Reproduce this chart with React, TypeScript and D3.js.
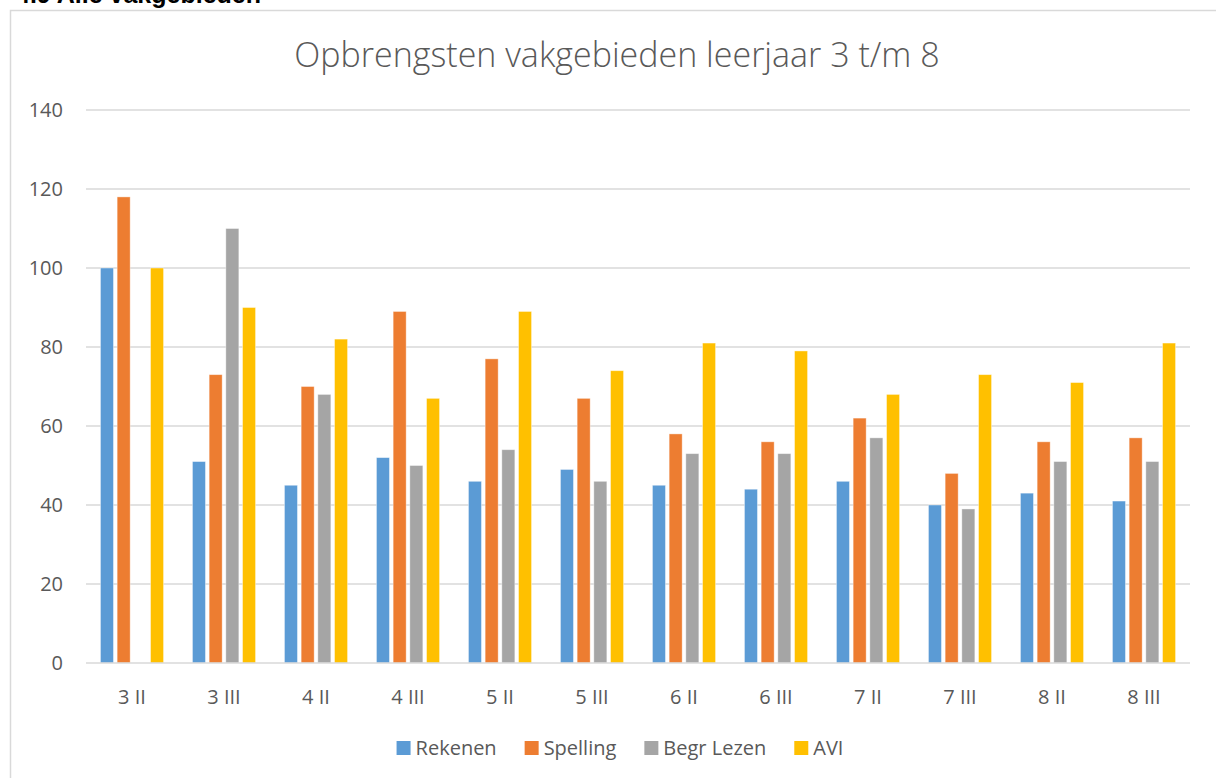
import React, { useEffect, useRef } from "react";
import * as d3 from "d3";

const categories = ["3 II", "3 III", "4 II", "4 III", "5 II", "5 III", "6 II", "6 III", "7 II", "7 III", "8 II", "8 III"];
const seriesNames = ["Rekenen", "Spelling", "Begr Lezen", "AVI"];
const rekenen = [100, 51, 45, 52, 46, 49, 45, 44, 46, 40, 43, 41];
const spelling = [118, 73, 70, 89, 77, 67, 58, 56, 62, 48, 56, 57];
const begrLezen: (number | null)[] = [null, 110, 68, 50, 54, 46, 53, 53, 57, 39, 51, 51];
const avi = [100, 90, 82, 67, 89, 74, 81, 79, 68, 73, 71, 81];
const yTicks = [0, 20, 40, 60, 80, 100, 120, 140];
const colors = ["#5B9BD5", "#ED7D31", "#A5A5A5", "#FFC000"];

const W = 1216;
const H = 778;
const FONT = "'Open Sans', 'Noto Sans', sans-serif";

export default function App() {
  const ref = useRef<SVGSVGElement>(null);

  useEffect(() => {
    const svg = d3.select(ref.current);
    svg.selectAll("*").remove();

    const allSeries = [rekenen, spelling, begrLezen, avi];

    // header (cut off at top, as in the source page)
    svg.append("text")
      .attr("x", 16).attr("y", 3)
      .attr("font-family", "'Liberation Sans', Arial, sans-serif")
      .attr("font-weight", "bold").attr("font-size", 25)
      .attr("fill", "#000")
      .text("4.9 Alle vakgebieden");

    // chart frame
    svg.append("rect")
      .attr("x", 10.5).attr("y", 10.5)
      .attr("width", 1400).attr("height", 1000)
      .attr("fill", "#fff").attr("stroke", "#d9d9d9").attr("stroke-width", 1.5);

    const x0 = d3.scaleBand().domain(categories).range([86, 1190]).padding(0);
    const x1 = d3.scaleBand().domain(seriesNames).range([0, x0.bandwidth()])
      .paddingInner(0.22).paddingOuter(0.865);
    const y = d3.scaleLinear().domain([0, 140]).range([663, 110]);

    // grid
    svg.append("g").selectAll("line").data(yTicks.filter(t => t !== 0)).join("line")
      .attr("x1", 86).attr("x2", 1190)
      .attr("y1", d => y(d)).attr("y2", d => y(d))
      .attr("stroke", "#d9d9d9").attr("stroke-width", 1.3);

    // y tick labels
    svg.append("g").selectAll("text").data(yTicks).join("text")
      .attr("x", 63).attr("y", d => y(d))
      .attr("dy", "0.35em").attr("text-anchor", "end")
      .attr("font-family", FONT).attr("font-size", 20).attr("fill", "#595959")
      .text(d => String(d));

    // bars
    allSeries.forEach((vals, si) => {
      svg.append("g").selectAll("rect")
        .data(vals.map((v, i) => ({ v, c: categories[i] })).filter(d => d.v != null))
        .join("rect")
        .attr("x", d => (x0(d.c) as number) + (x1(seriesNames[si]) as number))
        .attr("width", x1.bandwidth())
        .attr("y", d => y(d.v as number))
        .attr("height", d => y(0) - y(d.v as number))
        .attr("fill", colors[si])
        .attr("stroke", "#ffffff").attr("stroke-opacity", 0.5).attr("stroke-width", 0.8);
    });

    // x axis line
    svg.append("line")
      .attr("x1", 86).attr("x2", 1190).attr("y1", y(0)).attr("y2", y(0))
      .attr("stroke", "#d9d9d9").attr("stroke-width", 1.3);

    // x labels
    svg.append("g").selectAll("text").data(categories).join("text")
      .attr("x", d => (x0(d) as number) + x0.bandwidth() / 2)
      .attr("y", 704).attr("text-anchor", "middle")
      .attr("font-family", FONT).attr("font-size", 20).attr("fill", "#595959")
      .text(d => d);

    // title
    svg.append("text")
      .attr("x", 617).attr("y", 67).attr("text-anchor", "middle")
      .attr("font-family", FONT).attr("font-weight", 300).attr("font-size", 34).attr("fill", "#595959")
      .text("Opbrengsten vakgebieden leerjaar 3 t/m 8");

    // legend
    const lg = svg.append("g");
    const items = seriesNames.map((name, i) => {
      const g = lg.append("g");
      g.append("rect").attr("width", 14).attr("height", 14).attr("y", -14).attr("fill", colors[i]);
      const t = g.append("text").attr("x", 19).attr("y", 0)
        .attr("font-family", FONT).attr("font-size", 20).attr("fill", "#595959").text(name);
      const w = 19 + (t.node() as SVGTextElement).getComputedTextLength();
      return { g, w };
    });
    const gap = 28;
    const total = items.reduce((s, it) => s + it.w, 0) + gap * (items.length - 1);
    let cx = 620 - total / 2;
    items.forEach(it => {
      it.g.attr("transform", `translate(${cx},755)`);
      cx += it.w + gap;
    });
  }, []);

  return (
    <svg ref={ref} width={W} height={H}
      style={{ position: "absolute", left: 0, top: 0, background: "#fff" }} />
  );
}
